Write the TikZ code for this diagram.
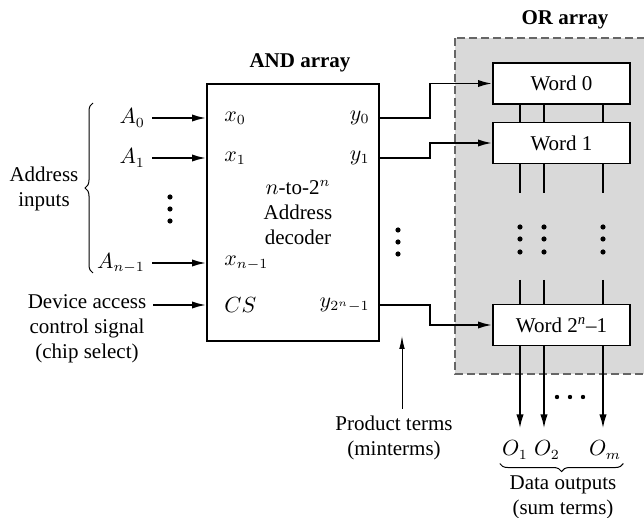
\documentclass[tikz,border=0pt]{standalone}
\usepackage{fontspec}
\setmainfont{Liberation Serif}
\usetikzlibrary{
  arrows.meta,
  positioning,
  calc,
  decorations.pathreplacing
}
\tikzset{
  sig arrow/.style={
    -{Latex[length=7pt,width=3.6pt]}, line width=0.9pt
  },
  note arrow/.style={
    -{Latex[length=6.5pt,width=2.8pt]}, line width=0.5pt
  },
  wire/.style={line width=0.9pt},
  word box/.style={
    draw, line width=0.9pt, fill=white,
    minimum width=68.5pt, minimum height=20.5pt, inner sep=0pt
  },
  pin/.style={inner sep=1pt},
  out lab/.style={inner sep=1pt},
  brace/.style={decorate, decoration={brace, amplitude=4pt}, line width=0.5pt},
}

\begin{document}
\begin{tikzpicture}[x=0.5pt, y=-0.5pt, font=\fontsize{10.5}{12.5}\selectfont]
  \useasboundingbox (0,0) rectangle (644,518);

  % OR array area
  \draw[dashed, dash pattern=on 4pt off 2pt, black!60, fill=black!15, line width=0.6pt]
    (455,38) rectangle (652,374);
  \node[font=\fontsize{10.5}{12.5}\selectfont\bfseries] (orlab) at (565,20) {OR array};

  % Decoder block
  \node[draw, line width=0.9pt, minimum width=86pt, minimum height=128.5pt] (dec) at (293,212.5) {};
  \node[font=\fontsize{10.5}{12.5}\selectfont\bfseries] (andlab) at (300,63) {AND array};
  \node[align=center] (desc) at (298,213) {$n$-to-2$^n$\\Address\\decoder};

  % Pins
  \node[pin, anchor=west] (x0) at (222,118) {$x_0$};
  \node[pin, anchor=west] (x1) at (222,158) {$x_1$};
  \node[pin, anchor=west] (xn) at (222,263) {$x_{n-1}$};
  \node[pin, anchor=west] (cs) at (222,305) {$CS$};
  \node[pin, anchor=east] (y0) at (372,118) {$y_0$};
  \node[pin, anchor=east] (y1) at (372,158) {$y_1$};
  \node[pin, anchor=east] (yn) at (372,305) {$y_{2^n-1}$};

  % Address inputs
  \node[anchor=east] (a0) at (152,118) {$A_0$};
  \node[anchor=east] (a1) at (152,158) {$A_1$};
  \node[anchor=east] (an) at (152,263) {$A_{n-1}$};
  \draw[sig arrow] (a0.east) -- (a0 -| dec.west);
  \draw[sig arrow] (a1.east) -- (a1 -| dec.west);
  \draw[sig arrow] (an.east) -- (an -| dec.west);
  \foreach \y in {197,209,221}
    \fill (170,\y) circle (1.3pt);
  \draw[brace] (93,273) -- (93,103);
  \node[align=center] (addr) at (44,189) {Address\\inputs};

  % Chip select
  \node[align=center] (dev) at (87,329) {Device access\\control signal\\(chip select)};
  \draw[sig arrow] (dev.east |- cs) -- (dec.west |- cs);

  % Word lines
  \node[word box] (w0) at (561.5,83.5) {Word 0};
  \node[word box] (w1) at (561.5,143) {Word 1};
  \node[word box] (wn) at (561.5,325) {Word 2\textsuperscript{\itshape n}--1};
  \draw[sig arrow] (y0 -| dec.east) -- ++(50,0) |- (w0.west);
  \draw[sig arrow] (y1 -| dec.east) -- ++(50,0) |- (w1.west);
  \draw[sig arrow] (yn -| dec.east) -- ++(50,0) |- (wn.west);
  \foreach \y in {230,242,254}
    \fill (398,\y) circle (1.3pt);

  % Product terms
  \node[align=center] (prod) at (394,438) {Product terms\\(minterms)};
  \draw[note arrow] (prod.north -| 402,0) -- (402,336);

  % Outputs
  \node[out lab] (o1) at (515,450) {$O_1$};
  \node[out lab] (o2) at (547,450) {$O_2$};
  \node[out lab] (om) at (605,450) {$O_m$};
  \foreach \bx/\oname in {520/o1,544/o2,603/om} {
    \draw[wire] (w0.south -| \bx,0) -- (w1.north -| \bx,0);
    \draw[wire] (w1.south -| \bx,0) -- (\bx,193);
    \foreach \y in {227,239,252}
      \fill (\bx,\y) circle (1.3pt);
    \draw[wire] (\bx,280) -- (wn.north -| \bx,0);
    \draw[sig arrow, shorten >=5pt] (wn.south -| \bx,0) -- (\oname.north -| \bx,0);
  }
  \foreach \x in {557,570,583}
    \fill (\x,397) circle (1.1pt);
  \draw[brace] ([yshift=-1pt]om.south east) -- ([yshift=-1pt]o1.south west);
  \node[align=center] (dout) at (563,497) {Data outputs\\(sum terms)};

\end{tikzpicture}
\end{document}
